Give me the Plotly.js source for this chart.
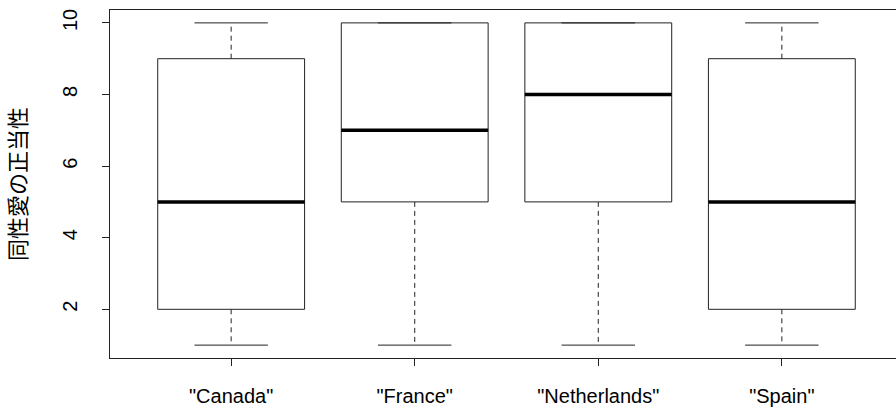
<!DOCTYPE html>
<html>
<head>
<meta charset="utf-8">
<script src="https://cdn.plot.ly/plotly-3.0.1.min.js"></script>
<style>
  html, body { margin: 0; padding: 0; overflow: hidden; background: #fff; }
  #chart { width: 910px; height: 408px; }
</style>
</head>
<body>
<div id="chart"></div>
<script>
// Five-number summaries per country
const countries = ['"Canada"', '"France"', '"Netherlands"', '"Spain"'];
const lowerWhisker = [1, 1, 1, 1];
const q1 = [2, 5, 5, 2];
const median = [5, 7, 8, 5];
const q3 = [9, 10, 10, 9];
const upperWhisker = [10, 10, 10, 10];
const yTicks = [2, 4, 6, 8, 10];
const yTitle = '同性愛の正当性';

const boxHalf = 0.4;
const capHalf = 0.2;

const boxX = [], boxY = [];
const medX = [], medY = [];
const whiskX = [], whiskY = [];
const capX = [], capY = [];

countries.forEach((c, k) => {
  const i = k + 1;
  boxX.push(i - boxHalf, i + boxHalf, i + boxHalf, i - boxHalf, i - boxHalf, null);
  boxY.push(q1[k], q1[k], q3[k], q3[k], q1[k], null);
  medX.push(i - boxHalf, i + boxHalf, null);
  medY.push(median[k], median[k], null);
  whiskX.push(i, i, null, i, i, null);
  whiskY.push(q1[k], lowerWhisker[k], null, q3[k], upperWhisker[k], null);
  capX.push(i - capHalf, i + capHalf, null, i - capHalf, i + capHalf, null);
  capY.push(lowerWhisker[k], lowerWhisker[k], null, upperWhisker[k], upperWhisker[k], null);
});

const common = { type: 'scatter', mode: 'lines', hoverinfo: 'skip', showlegend: false };
const traces = [
  Object.assign({ x: whiskX, y: whiskY, line: { color: '#222', width: 1, dash: '5px,4px' } }, common),
  Object.assign({ x: capX, y: capY, line: { color: '#222', width: 1 } }, common),
  Object.assign({ x: boxX, y: boxY, line: { color: '#222', width: 1 } }, common),
  Object.assign({ x: medX, y: medY, line: { color: '#000', width: 3.5 } }, common)
];

const n = countries.length;
const xPad = 0.04 * n;
const yMin = Math.min(...lowerWhisker), yMax = Math.max(...upperWhisker);
const yPad = 0.04 * (yMax - yMin);

const layout = {
  width: 910,
  height: 408,
  margin: { l: 110, r: 7, t: 10, b: 50 },
  paper_bgcolor: '#fff',
  plot_bgcolor: '#fff',
  font: { family: 'Liberation Sans, Arial, sans-serif', size: 18, color: '#000' },
  xaxis: {
    range: [0.5 - xPad, n + 0.5 + xPad],
    tickvals: countries.map((c, k) => k + 1),
    ticktext: countries,
    ticks: 'outside', ticklen: 7, tickcolor: '#222', tickwidth: 1,
    ticklabelstandoff: 13,
    tickfont: { size: 20 },
    showgrid: false, zeroline: false,
    showline: true, mirror: true, linecolor: '#222', linewidth: 1
  },
  yaxis: {
    range: [yMin - yPad, yMax + yPad],
    tickvals: yTicks,
    ticks: 'outside', ticklen: 7, tickcolor: '#222', tickwidth: 1,
    tickangle: -90,
    ticklabelstandoff: 17,
    tickfont: { size: 20 },
    showgrid: false, zeroline: false,
    showline: true, mirror: true, linecolor: '#222', linewidth: 1,
    title: { text: yTitle, font: { family: 'Noto Sans CJK JP, sans-serif', size: 22 }, standoff: 26 }
  }
};

Plotly.newPlot('chart', traces, layout, { staticPlot: true, displayModeBar: false });
</script>
</body>
</html>
